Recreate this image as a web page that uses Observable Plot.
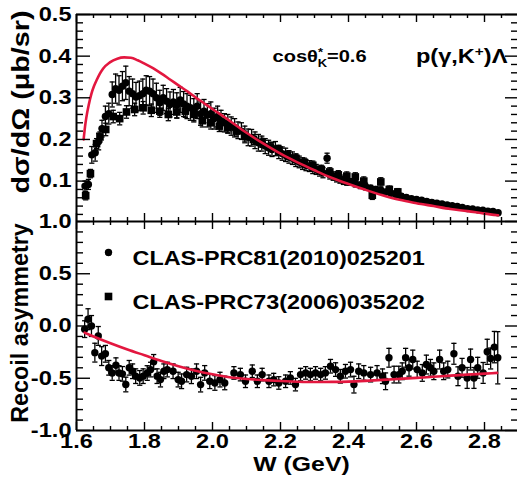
<!DOCTYPE html>
<html><head><meta charset="utf-8">
<script src="https://cdn.jsdelivr.net/npm/d3@7"></script>
<script src="https://cdn.jsdelivr.net/npm/@observablehq/plot@0.6"></script>
<style>
html,body{margin:0;padding:0;background:#fff;width:517px;height:486px;overflow:hidden}
#chart svg{display:block}
</style></head><body><div id="chart"></div>
<script>
// ---- data: [W (GeV), value, error] ----
const crossSection2010 = [
[1.625,0.088,0.012],[1.635,0.092,0.012],[1.645,0.163,0.02],[1.655,0.168,0.02],[1.665,0.195,0.02],[1.675,0.226,0.02],
[1.685,0.255,0.025],[1.695,0.262,0.025],[1.705,0.308,0.03],[1.715,0.322,0.035],[1.725,0.318,0.035],[1.735,0.328,0.035],
[1.745,0.336,0.04],[1.755,0.316,0.035],[1.765,0.31,0.035],[1.775,0.302,0.035],[1.785,0.305,0.035],[1.795,0.31,0.035],
[1.805,0.318,0.035],[1.815,0.316,0.035],[1.825,0.31,0.035],[1.835,0.3,0.035],[1.845,0.288,0.03],[1.855,0.3,0.03],
[1.865,0.292,0.03],[1.875,0.284,0.03],[1.885,0.29,0.03],[1.895,0.282,0.03],[1.905,0.295,0.03],[1.915,0.285,0.03],
[1.925,0.28,0.03],[1.935,0.276,0.03],[1.945,0.27,0.028],[1.955,0.28,0.03],[1.965,0.262,0.028],[1.975,0.268,0.028],
[1.985,0.258,0.028],[1.995,0.262,0.028],[2.005,0.25,0.025],[2.015,0.255,0.025],[2.025,0.245,0.025],[2.035,0.24,0.022],
[2.045,0.238,0.022],[2.055,0.232,0.022],[2.065,0.228,0.022],[2.075,0.222,0.02],[2.085,0.22,0.02],[2.095,0.212,0.02],
[2.105,0.205,0.02],[2.115,0.204,0.02],[2.125,0.198,0.02],[2.135,0.192,0.02],[2.145,0.19,0.018],[2.155,0.184,0.018],
[2.165,0.18,0.018],[2.175,0.176,0.017],[2.185,0.178,0.017],[2.195,0.17,0.016],[2.205,0.166,0.016],[2.215,0.163,0.016],
[2.225,0.158,0.015],[2.235,0.155,0.015],[2.245,0.15,0.015],[2.255,0.146,0.014],[2.265,0.142,0.014],[2.275,0.138,0.013],
[2.285,0.136,0.013],[2.295,0.131,0.013],[2.305,0.128,0.012],[2.315,0.124,0.012],[2.325,0.12,0.012],[2.337,0.155,0.012],
[2.345,0.115,0.01],[2.355,0.112,0.01],[2.365,0.108,0.01],[2.375,0.105,0.01],[2.385,0.102,0.01],[2.395,0.1,0.01],
[2.405,0.098,0.008],[2.42,0.094,0.008],[2.435,0.09,0.008],[2.45,0.087,0.008],[2.465,0.083,0.007],[2.48,0.08,0.007],
[2.495,0.078,0.007],[2.51,0.074,0.006],[2.525,0.071,0.006],[2.54,0.068,0.006],[2.555,0.064,0.006],[2.57,0.061,0.005],
[2.585,0.058,0.005],[2.6,0.056,0.005],[2.615,0.054,0.005],[2.63,0.051,0.005],[2.645,0.049,0.005],[2.66,0.047,0.004],
[2.675,0.045,0.004],[2.69,0.043,0.004],[2.705,0.041,0.004],[2.72,0.039,0.004],[2.735,0.037,0.004],[2.75,0.034,0.004],
[2.765,0.033,0.004],[2.78,0.031,0.004],[2.795,0.03,0.004],[2.81,0.028,0.004],[2.825,0.027,0.004],[2.84,0.024,0.004]
];
const crossSection2006 = [
[1.627,0.065,0.01],[1.641,0.118,0.01],[1.659,0.19,0.012],[1.669,0.206,0.012],[1.686,0.224,0.015],[1.708,0.255,0.015],
[1.727,0.25,0.015],[1.747,0.266,0.015],[1.771,0.272,0.015],[1.796,0.276,0.015],[1.82,0.27,0.015],[1.845,0.268,0.015],
[1.87,0.26,0.015],[1.895,0.266,0.015],[1.92,0.268,0.015],[1.945,0.26,0.015],[1.97,0.245,0.015],[1.995,0.24,0.015],
[2.02,0.232,0.013],[2.045,0.228,0.013],[2.07,0.22,0.012],[2.095,0.208,0.012],[2.12,0.2,0.012],[2.145,0.192,0.011],
[2.17,0.182,0.011],[2.195,0.175,0.01],[2.22,0.162,0.01],[2.245,0.155,0.01],[2.27,0.145,0.01],[2.295,0.138,0.01],
[2.32,0.128,0.01],[2.345,0.122,0.01],[2.37,0.115,0.01],[2.395,0.112,0.01],[2.42,0.11,0.01],[2.445,0.1,0.01],
[2.47,0.066,0.01],[2.495,0.098,0.01],[2.52,0.08,0.008],[2.545,0.074,0.008]
];
const recoil2010 = [
[1.624,-0.03,0.08],[1.634,0.065,0.1],[1.644,0.0,0.1],[1.654,-0.255,0.09],[1.664,-0.095,0.09],[1.674,-0.288,0.09],
[1.685,-0.266,0.08],[1.695,-0.4,0.07],[1.705,-0.45,0.07],[1.716,-0.375,0.07],[1.725,-0.45,0.07],[1.735,-0.458,0.07],
[1.745,-0.56,0.07],[1.755,-0.4,0.07],[1.765,-0.433,0.07],[1.774,-0.48,0.07],[1.786,-0.497,0.07],[1.796,-0.48,0.07],
[1.808,-0.45,0.07],[1.818,-0.417,0.07],[1.827,-0.343,0.07],[1.837,-0.48,0.07],[1.847,-0.513,0.07],[1.857,-0.433,0.07],
[1.867,-0.417,0.07],[1.884,-0.433,0.07],[1.899,-0.513,0.07],[1.909,-0.529,0.07],[1.924,-0.465,0.07],[1.938,-0.481,0.07],
[1.953,-0.433,0.07],[1.965,-0.561,0.07],[1.977,-0.449,0.07],[1.992,-0.529,0.07],[2.007,-0.545,0.07],[2.022,-0.513,0.07],
[2.036,-0.545,0.065],[2.063,-0.449,0.06],[2.082,-0.465,0.06],[2.097,-0.529,0.06],[2.117,-0.433,0.06],[2.132,-0.529,0.06],
[2.146,-0.465,0.06],[2.166,-0.529,0.06],[2.18,-0.513,0.06],[2.195,-0.545,0.06],[2.215,-0.529,0.06],[2.229,-0.497,0.06],
[2.244,-0.561,0.06],[2.259,-0.465,0.06],[2.274,-0.449,0.06],[2.288,-0.465,0.06],[2.303,-0.449,0.06],[2.318,-0.465,0.06],
[2.332,-0.449,0.06],[2.347,-0.385,0.065],[2.362,-0.417,0.065],[2.376,-0.481,0.065],[2.391,-0.433,0.065],[2.406,-0.417,0.07],
[2.416,-0.561,0.08],[2.43,-0.433,0.07],[2.445,-0.449,0.07],[2.465,-0.465,0.07],[2.484,-0.449,0.07],[2.5,-0.481,0.07],
[2.509,-0.529,0.08],[2.519,-0.304,0.09],[2.534,-0.465,0.08],[2.548,-0.465,0.08],[2.558,-0.433,0.08],[2.568,-0.304,0.09],
[2.578,-0.4,0.08],[2.589,-0.321,0.09],[2.602,-0.417,0.08],[2.617,-0.449,0.08],[2.629,-0.369,0.09],[2.641,-0.4,0.08],
[2.651,-0.433,0.08],[2.668,-0.321,0.09],[2.68,-0.433,0.08],[2.692,-0.417,0.08],[2.71,-0.266,0.1],[2.722,-0.481,0.09],
[2.734,-0.4,0.09],[2.749,-0.497,0.1],[2.759,-0.321,0.1],[2.769,-0.497,0.1],[2.78,-0.4,0.1],[2.796,-0.449,0.1],
[2.808,-0.247,0.12],[2.818,-0.311,0.1],[2.829,-0.202,0.15],[2.839,-0.304,0.25]
];
// model curves: [W, value]
const modelCrossSection = [
[1.621,0.2],[1.625,0.23],[1.629,0.253],[1.636,0.283],[1.644,0.31],[1.651,0.327],[1.659,0.342],[1.668,0.357],
[1.678,0.37],[1.698,0.385],[1.72,0.394],[1.74,0.397],[1.76,0.396],[1.78,0.39],[1.8,0.382],[1.825,0.371],
[1.85,0.358],[1.875,0.344],[1.9,0.33],[1.925,0.316],[1.95,0.301],[1.975,0.287],[2.0,0.273],[2.05,0.245],
[2.1,0.216],[2.15,0.19],[2.2,0.166],[2.25,0.145],[2.3,0.126],[2.35,0.108],[2.4,0.093],[2.45,0.079],
[2.5,0.066],[2.55,0.055],[2.6,0.047],[2.65,0.04],[2.7,0.033],[2.75,0.028],[2.8,0.022],[2.84,0.018]
];
const modelRecoil = [
[1.624,-0.064],[1.65,-0.1],[1.7,-0.165],[1.75,-0.225],[1.8,-0.28],[1.85,-0.335],[1.9,-0.385],[1.95,-0.428],
[2.0,-0.462],[2.05,-0.49],[2.1,-0.507],[2.15,-0.518],[2.2,-0.527],[2.25,-0.533],[2.3,-0.536],[2.35,-0.535],
[2.4,-0.532],[2.45,-0.525],[2.5,-0.516],[2.55,-0.506],[2.6,-0.496],[2.65,-0.486],[2.7,-0.475],[2.75,-0.465],
[2.8,-0.456],[2.837,-0.449]
];
const legendLabels = ["CLAS-PRC81(2010)025201", "CLAS-PRC73(2006)035202"];
const xTickValues = [1.6, 1.8, 2.0, 2.2, 2.4, 2.6, 2.8];
const csTickValues = [0.1, 0.2, 0.3, 0.4, 0.5];
const recTickValues = [-1, -0.5, 0, 0.5, 1];
const xTitle = "W (GeV)";
const csTitle = "dσ/dΩ (μb/sr)";
const recTitle = "Recoil asymmetry";
const angleLabel = "cosθ*K=0.6";
const reactionLabel = "p(γ,K+)Λ";

// ---- layout ----
const W = 517, ML = 76, XR = [76, 518];
const FONT = "'Liberation Sans', Arial, Helvetica, sans-serif";
const RED = "#e3173f";
const xMinor = d3.range(0, 27).filter(i => i % 4 !== 0).map(i => +(1.6 + i * 0.05).toFixed(2));
const csMinor = d3.range(1, 25).filter(i => i % 5 !== 0).map(i => +(i * 0.02).toFixed(2));
const recMinor = d3.range(-9, 10).filter(i => i % 5 !== 0).map(i => +(i * 0.1).toFixed(1));

const capSymbol = {draw(ctx) { ctx.moveTo(-2.6, 0); ctx.lineTo(2.6, 0); }};

function frameTicks(frameH, yMajor, yMinor) {
  const FW = W - ML;
  const o = {strokeWidth: 1.4};
  return [
    Plot.tickX(xTickValues, {x: d => d, insetTop: frameH - 8, ...o}),
    Plot.tickX(xTickValues, {x: d => d, insetBottom: frameH - 8, ...o}),
    Plot.tickX(xMinor, {x: d => d, insetTop: frameH - 4, ...o}),
    Plot.tickX(xMinor, {x: d => d, insetBottom: frameH - 4, ...o}),
    Plot.tickY(yMajor, {y: d => d, insetRight: FW - 14, ...o}),
    Plot.tickY(yMinor, {y: d => d, insetRight: FW - 7, ...o}),
    Plot.tickY(yMajor, {y: d => d, insetLeft: FW - 12, ...o}),
    Plot.tickY(yMinor, {y: d => d, insetLeft: FW - 6, ...o})
  ];
}
function errorBars(data, sw = 1.3) {
  return [
    Plot.ruleX(data, {x: d => d[0], y1: d => d[1] - d[2], y2: d => d[1] + d[2], stroke: "black", strokeWidth: sw}),
    Plot.dot(data, {x: d => d[0], y: d => d[1] + d[2], symbol: capSymbol, stroke: "black", fill: "none", strokeWidth: sw}),
    Plot.dot(data, {x: d => d[0], y: d => d[1] - d[2], symbol: capSymbol, stroke: "black", fill: "none", strokeWidth: sw})
  ];
}
const svgStyle = {fontFamily: FONT, fontSize: "20px", fontWeight: "bold", overflow: "visible", background: "transparent", color: "black"};

const topPlot = Plot.plot({
  width: W, height: 221, marginLeft: ML, marginRight: 0, marginTop: 14, marginBottom: 0,
  style: svgStyle,
  x: {domain: [1.6, 2.9], range: XR, axis: null},
  y: {domain: [0.003, 0.5], ticks: csTickValues, tickSize: 0, tickPadding: 5, tickFormat: d => d.toFixed(1), label: null},
  marks: [
    ...errorBars(crossSection2006),
    Plot.dot(crossSection2006, {x: d => d[0], y: d => d[1], symbol: "square", r: 4.3, fill: "black"}),
    ...errorBars(crossSection2010),
    Plot.dot(crossSection2010, {x: d => d[0], y: d => d[1], r: 3.7, fill: "black"}),
    Plot.line(modelCrossSection, {x: d => d[0], y: d => d[1], stroke: RED, strokeWidth: 2.6, curve: "monotone-x"}),
    ...frameTicks(207, csTickValues, csMinor),
    Plot.ruleX([1.6], {strokeWidth: 2}),
    Plot.ruleY([0.5], {strokeWidth: 2}),
    Plot.text([angleLabel], {frameAnchor: "top-left", dx: 196, dy: 35, textAnchor: "start", fontSize: 17}),
    Plot.text([reactionLabel], {frameAnchor: "top-right", dx: -10, dy: 34, textAnchor: "end", fontSize: 20}),
    Plot.text([csTitle], {frameAnchor: "left", rotate: -90, textAnchor: "middle", dx: -55, dy: -16, fontSize: 23})
  ]
});

const legendRows = legendLabels.map((t, i) => ({t, i}));
const bottomPlot = Plot.plot({
  width: W, height: 265, marginLeft: ML, marginRight: 0, marginTop: 0, marginBottom: 56,
  style: svgStyle,
  x: {domain: [1.6, 2.9], range: XR, ticks: xTickValues, tickSize: 0, tickPadding: 3, tickFormat: d => d.toFixed(1), label: null},
  y: {domain: [-1, 1], ticks: recTickValues, tickSize: 0, tickPadding: 5, tickFormat: d => d.toFixed(1), label: null},
  marks: [
    ...errorBars(recoil2010),
    Plot.dot(recoil2010, {x: d => d[0], y: d => d[1], r: 3.7, fill: "black"}),
    Plot.line(modelRecoil, {x: d => d[0], y: d => d[1], stroke: RED, strokeWidth: 2.6, curve: "monotone-x"}),
    ...frameTicks(209, recTickValues, recMinor),
    Plot.ruleX([1.6], {strokeWidth: 2}),
    Plot.ruleY([1, -1], {strokeWidth: 2}),
    Plot.dot([legendRows[0]], {frameAnchor: "top-left", dx: 32, dy: 31, r: 3.7, fill: "black"}),
    Plot.dot([legendRows[1]], {frameAnchor: "top-left", dx: 32, dy: 75, symbol: "square", r: 4.3, fill: "black"}),
    Plot.text([legendRows[0]], {frameAnchor: "top-left", dx: 56, dy: 30, text: d => d.t, textAnchor: "start", fontSize: 19.5}),
    Plot.text([legendRows[1]], {frameAnchor: "top-left", dx: 56, dy: 74, text: d => d.t, textAnchor: "start", fontSize: 19.5}),
    Plot.text([xTitle], {frameAnchor: "bottom", dx: 4.5, dy: 40, fontSize: 21}),
    Plot.text([recTitle], {frameAnchor: "left", rotate: -90, textAnchor: "middle", dx: -56, dy: -3, fontSize: 23})
  ]
});

const root = document.getElementById("chart");
root.appendChild(topPlot);
root.appendChild(bottomPlot);

// rich text (super/subscripts) and ROOT-like horizontally wide lettering
const richParts = {
  [angleLabel]: [{t: "cosθ"}, {t: "*", off: 6, size: 11}, {t: "K", off: -5, size: 11, dx: -4.5}, {t: "=0.6", off: 0}],
  [reactionLabel]: [{t: "p(γ,K"}, {t: "+", off: 7, size: 13}, {t: ")Λ", off: 0}]
};
const fixedLength = {[csTitle]: 183, [recTitle]: 200};
const factor = {[legendLabels[0]]: 1.2, [legendLabels[1]]: 1.2};
function setRich(el, parts) {
  el.textContent = "";
  let cur = 0;
  for (const p of parts) {
    const ts = document.createElementNS("http://www.w3.org/2000/svg", "tspan");
    ts.textContent = p.t;
    const off = p.off || 0;
    if (off !== cur) ts.setAttribute("dy", cur - off);
    cur = off;
    if (p.size) ts.setAttribute("font-size", p.size);
    if (p.dx) ts.setAttribute("dx", p.dx);
    el.appendChild(ts);
  }
}
function stretch(t, k) {
  const bb = t.getBBox();
  const anchor = getComputedStyle(t).textAnchor;
  const ax = anchor === "middle" ? bb.x + bb.width / 2 : anchor === "end" ? bb.x + bb.width : bb.x;
  const prev = t.getAttribute("transform") || "";
  t.setAttribute("transform", `${prev} translate(${ax.toFixed(2)},0) scale(${k.toFixed(4)},1) translate(${(-ax).toFixed(2)},0)`);
}
for (const svg of [topPlot, bottomPlot]) {
  svg.querySelectorAll("text").forEach(t => {
    const s = t.textContent;
    if (!s.trim()) return;
    if (richParts[s]) setRich(t, richParts[s]);
    const k = fixedLength[s] ? fixedLength[s] / t.getBBox().width : (factor[s] ?? 1.18);
    stretch(t, k);
  });
}
</script></body></html>
